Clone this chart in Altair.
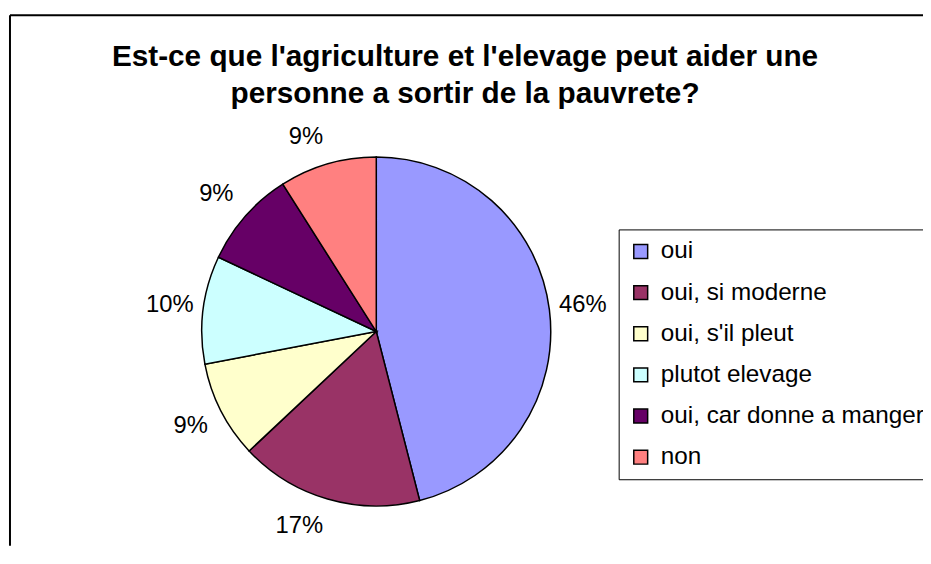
import altair as alt
import pandas as pd

categories = ["oui", "oui, si moderne", "oui, s'il pleut", "plutot elevage",
              "oui, car donne a manger", "non"]
values = [46, 17, 9, 10, 9, 9]
labels = ["46%", "17%", "9%", "10%", "9%", "9%"]
colors = ["#9999FF", "#993366", "#FFFFCC", "#CCFFFF", "#660066", "#FF8080"]
title_lines = ["Est-ce que l'agriculture et l'elevage peut aider une",
               "personne a sortir de la pauvrete?"]

FONT = "Liberation Sans"
W, H = 923, 540
CX, CY, R = 371.5, 324, 176
TWO_PI = 6.283185307179586

df = pd.DataFrame({"cat": categories, "val": values, "label": labels,
                   "idx": list(range(len(categories)))})
one = pd.DataFrame({"k": [0]})

pie = alt.Chart(df).mark_arc(radius=R, stroke="black", strokeWidth=1.5).encode(
    theta=alt.Theta("val:Q", stack=True),
    order=alt.Order("idx:Q", sort="ascending"),
    x=alt.value(CX), y=alt.value(CY),
    color=alt.Color(
        "cat:N",
        scale=alt.Scale(domain=categories, range=colors),
        legend=alt.Legend(
            orient="none", legendX=616, legendY=221, title=None,
            symbolType="square", symbolSize=196, symbolStrokeColor="black",
            symbolStrokeWidth=1.5, labelFont=FONT, labelFontSize=24.5,
            labelColor="black", labelLimit=400, rowPadding=16.5, padding=10,
            strokeColor="black", fillColor="white", labelOffset=8,
        ),
    ),
)

# label angle = middle of each slice, computed from the data
lab_base = alt.Chart(df).transform_joinaggregate(
    total="sum(val)"
).transform_window(
    cum="sum(val)", sort=[alt.SortField("idx")], frame=[None, 0]
).transform_calculate(
    mid="(datum.cum - datum.val / 2) / datum.total * 360"
).transform_calculate(
    grp="datum.mid < 60 ? 'tr' : datum.mid < 120 ? 'side' : datum.mid < 180 ? 'br' "
        ": datum.mid < 240 ? 'bl' : datum.mid < 300 ? 'side' : 'tl'"
).encode(
    theta=alt.Theta("mid:Q", scale=alt.Scale(domain=[0, 360], range=[0, TWO_PI])),
    x=alt.value(CX), y=alt.value(CY), text="label:N",
)

def lab(grp, radius, align, baseline):
    return lab_base.transform_filter(f"datum.grp == '{grp}'").mark_text(
        radius=radius, fontSize=24, font=FONT, color="black",
        align=align, baseline=baseline,
    )

labels_layer = alt.layer(
    lab("side", 210, "center", "middle"),
    lab("tr", 192, "left", "bottom"),
    lab("tl", 192, "right", "bottom"),
    lab("br", 192, "left", "top"),
    lab("bl", 192, "right", "top"),
)

title = alt.Chart(one).mark_text(
    text=title_lines, font=FONT, fontSize=30, fontWeight="bold", color="black",
    align="center", baseline="alphabetic", lineHeight=37,
).encode(x=alt.value(461), y=alt.value(56))

frame_top = alt.Chart(one).mark_rule(color="black", strokeWidth=2).encode(
    x=alt.value(2), x2=alt.value(W), y=alt.value(5)
)
frame_left = alt.Chart(one).mark_rule(color="black", strokeWidth=2).encode(
    x=alt.value(2), y=alt.value(5), y2=alt.value(H)
)

chart = alt.layer(frame_top, frame_left, pie, labels_layer, title).resolve_scale(
    theta="independent"
).properties(
    width=W, height=H, autosize=alt.AutoSizeParams(type="none"),
    padding={"left": 0, "top": 0, "right": 0, "bottom": 0},
).configure_view(strokeWidth=0)

chart.save("out.html", embed_options={"renderer": "svg", "actions": False})
